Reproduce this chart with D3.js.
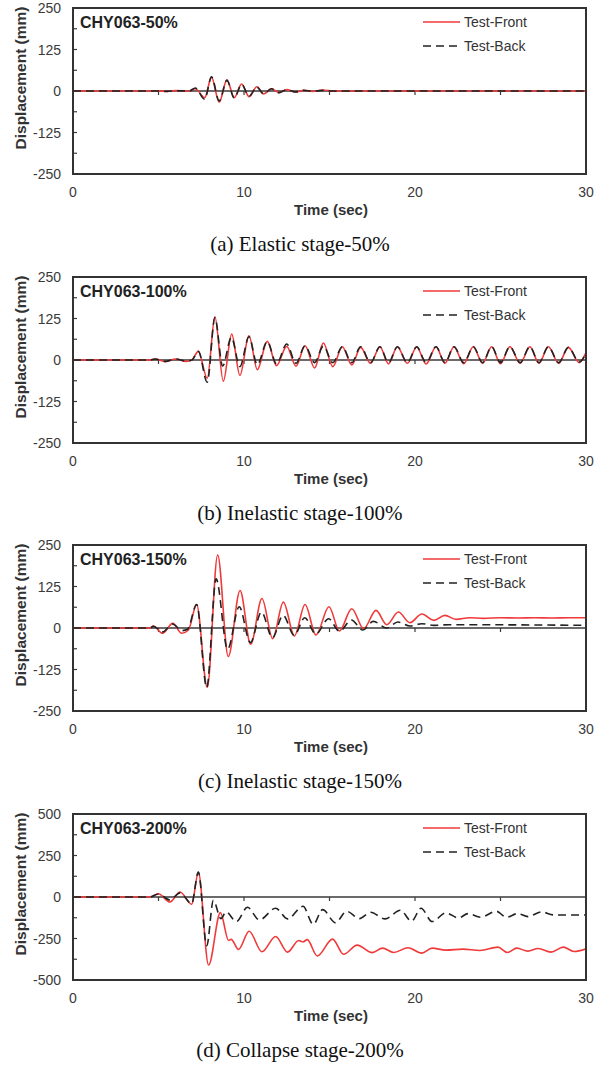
<!DOCTYPE html>
<html>
<head>
<meta charset="utf-8">
<title>CHY063 displacement</title>
<style>
  body { margin: 0; background: #fff; }
  svg { display: block; }
</style>
</head>
<body>

<div id="my_dataviz"></div>

<script src="https://cdn.jsdelivr.net/npm/d3@7"></script>
<script>

    // displacement histories, [time (sec), displacement (mm)]
    var front50 = [[0,0],[5,0],[5.5,-1],[6,1],[6.8,0],[7.15,7],[7.7,-20],[8.1,41],[8.55,-34],[9.0,34],[9.43,-20],[9.86,21],[10.3,-17],[10.75,13],[11.15,-9],[11.6,7],[12.05,-5],[12.5,4],[13.0,-3],[13.5,2],[14.0,-1],[14.6,3],[15.2,0],[30,0]];
    var back50  = [[0,0],[5,0],[5.5,-1],[6,1],[6.8,0],[7.15,9],[7.7,-25],[8.1,43],[8.55,-30],[9.0,32],[9.43,-21],[9.86,20],[10.3,-16],[10.75,12],[11.15,-9],[11.6,7],[12.05,-5],[12.5,4],[13.0,-3],[13.5,2],[14.0,-1],[14.6,2],[15.2,0],[30,0]];

    var front100 = [[0,0],[4.5,0],[4.8,3],[5.4,-5],[6.0,3],[6.6,-4],[6.95,0],[7.33,26],[7.85,-55],[8.3,130],[8.79,-64],[9.28,78],[9.76,-46],[10.29,73],[10.78,-29],[11.36,56],[11.9,-17],[12.5,41],[13.04,-19],[13.57,43],[14.13,-24],[14.64,51],[15.19,-20],[15.75,40],[16.3,-15],[16.82,38],[17.4,-10],[17.95,40],[18.45,-12],[18.97,40],[19.55,-10],[20.1,39],[20.65,-12],[21.23,40],[21.75,-10],[22.28,40],[22.85,-11],[23.41,40],[23.95,-10],[24.48,40],[25.0,-11],[25.55,40],[26.15,-10],[26.72,40],[27.25,-10],[27.8,40],[28.4,-10],[28.97,38],[29.6,-8],[30,22]];
    var back100  = [[0,0],[4.5,0],[4.8,3],[5.4,-4],[6.0,3],[6.6,-3],[6.95,0],[7.33,26],[7.85,-67],[8.3,128],[8.75,-18],[9.26,68],[9.76,-20],[10.29,70],[10.78,-14],[11.36,56],[11.9,-12],[12.5,48],[13.04,-10],[13.57,43],[14.13,-8],[14.64,42],[15.19,-8],[15.75,40],[16.3,-8],[16.82,40],[17.4,-8],[17.95,40],[18.45,-8],[18.97,40],[19.55,-8],[20.1,40],[20.65,-8],[21.23,40],[21.75,-8],[22.28,40],[22.85,-8],[23.41,40],[23.95,-8],[24.48,40],[25.0,-8],[25.55,40],[26.15,-8],[26.72,40],[27.25,-8],[27.8,40],[28.4,-8],[28.97,38],[29.6,-6],[30,20]];

    var front150 = [[0,0],[4.5,0],[4.7,6],[5.24,-16],[5.83,14],[6.36,-16],[6.75,-6],[7.23,71],[7.85,-179],[8.46,220],[9.08,-86],[9.77,113],[10.39,-49],[11.05,89],[11.68,-32],[12.3,78],[12.95,-24],[13.57,71],[14.21,-21],[14.97,64],[15.58,-9],[16.3,58],[17.0,-2],[17.72,53],[18.35,10],[19.03,48],[19.7,16],[20.4,42],[21.1,23],[21.75,38],[22.4,26],[23.2,31],[24,29],[25,31],[26,30],[27,31],[28,30],[29,31],[30,31]];
    var back150  = [[0,0],[4.5,0],[4.7,5],[5.24,-12],[5.83,12],[6.36,-8],[6.7,-4],[7.23,71],[7.82,-179],[8.37,148],[9.04,-64],[9.72,64],[10.37,-44],[11.02,48],[11.66,-29],[12.28,38],[12.94,-22],[13.55,31],[14.2,-18],[14.95,28],[15.58,-10],[16.28,24],[16.95,-6],[17.56,20],[18.35,0],[19.0,18],[19.7,6],[20.4,13],[21.1,8],[22,10],[30,8]];

    var front200 = [[0,0],[4.5,0],[4.99,20],[5.67,-30],[6.26,30],[6.94,-44],[7.33,148],[7.93,-410],[8.62,-94],[9.1,-262],[9.25,-255],[9.68,-316],[10.3,-206],[11.05,-330],[11.85,-238],[12.55,-332],[13.2,-262],[13.45,-270],[13.7,-257],[14.28,-355],[15.18,-254],[15.82,-345],[16.62,-290],[17.5,-335],[18.1,-308],[18.75,-334],[19.6,-306],[20.4,-338],[21.0,-308],[21.8,-320],[22.8,-314],[23.8,-322],[24.85,-302],[25.4,-334],[25.95,-308],[26.6,-326],[27.2,-310],[27.95,-332],[28.67,-302],[29.3,-328],[30,-312]];
    var back200  = [[0,0],[4.5,0],[4.99,18],[5.67,-18],[6.26,25],[6.94,-40],[7.33,150],[7.82,-294],[8.21,-20],[8.65,-130],[8.95,-90],[9.55,-148],[10.2,-62],[10.9,-138],[11.85,-68],[12.55,-132],[13.45,-56],[14.05,-165],[14.6,-76],[15.35,-155],[16.0,-86],[16.75,-130],[17.4,-92],[18.25,-132],[19.15,-80],[19.8,-146],[20.35,-68],[21.0,-148],[21.8,-96],[22.55,-126],[23.1,-100],[23.85,-122],[24.75,-86],[25.35,-122],[26.0,-100],[26.6,-118],[27.4,-90],[28.1,-108],[30,-108]];

    // axis ticks and labels
    var xTicks = [0, 10, 20, 30];
    var xMinor = [5, 10, 15, 20, 25];
    var yTicks250 = [-250, -125, 0, 125, 250];
    var yTicks500 = [-500, -250, 0, 250, 500];
    var titles = ["CHY063-50%", "CHY063-100%", "CHY063-150%", "CHY063-200%"];
    var captions = ["(a) Elastic stage-50%", "(b) Inelastic stage-100%", "(c) Inelastic stage-150%", "(d) Collapse stage-200%"];
    var seriesNames = ["Test-Front", "Test-Back"];

    var panels = [
      {front: front50,  back: back50,  ticks: yTicks250},
      {front: front100, back: back100, ticks: yTicks250},
      {front: front150, back: back150, ticks: yTicks250},
      {front: front200, back: back200, ticks: yTicks500}
    ];

    var W = 602, H = 1066;
    var left = 73, right = 586, boxH = 166;
    var tops = [8, 277, 545, 814];

    var svg = d3.select("#my_dataviz")
      .append("svg")
        .attr("width", W)
        .attr("height", H)
        .style("font-family", "Arial, 'Liberation Sans', sans-serif");

    var x = d3.scaleLinear().domain([0, 30]).range([left, right]);

    panels.forEach(function(p, i) {
      var top = tops[i];
      var ymax = d3.max(p.ticks);
      var y = d3.scaleLinear().domain([-ymax, ymax]).range([top + boxH, top]);
      var g = svg.append("g");

      // clip to plot box
      g.append("clipPath").attr("id", "clip" + i)
        .append("rect").attr("x", left).attr("y", top).attr("width", right - left).attr("height", boxH);

      // zero line with its time ticks
      g.append("line")
        .attr("x1", left).attr("x2", right)
        .attr("y1", y(0)).attr("y2", y(0))
        .attr("stroke", "#3a3a3a").attr("stroke-width", 1.6);
      g.selectAll(".ztick").data(xMinor).enter().append("line")
        .attr("x1", function(d) { return x(d); }).attr("x2", function(d) { return x(d); })
        .attr("y1", y(0)).attr("y2", y(0) + 4)
        .attr("stroke", "#3a3a3a").attr("stroke-width", 1.2);

      // minor y ticks inside the box
      var step = p.ticks[1] - p.ticks[0];
      var yMinor = d3.range(-ymax, ymax + 1, step / 2);
      g.selectAll(".ytick").data(yMinor).enter().append("line")
        .attr("x1", left).attr("x2", left + 4)
        .attr("y1", function(d) { return y(d); }).attr("y2", function(d) { return y(d); })
        .attr("stroke", "#3a3a3a").attr("stroke-width", 1.2);

      var line = d3.line()
        .x(function(d) { return x(d[0]); })
        .y(function(d) { return y(d[1]); })
        .curve(d3.curveMonotoneX);

      g.append("path")
        .datum(p.front)
        .attr("clip-path", "url(#clip" + i + ")")
        .attr("d", line)
        .attr("fill", "none")
        .attr("stroke", "#f03a3a")
        .attr("stroke-width", 1.6);

      g.append("path")
        .datum(p.back)
        .attr("clip-path", "url(#clip" + i + ")")
        .attr("d", line)
        .attr("fill", "none")
        .attr("stroke", "#222")
        .attr("stroke-width", 1.6)
        .attr("stroke-dasharray", "8,5");

      // frame
      g.append("rect")
        .attr("x", left).attr("y", top)
        .attr("width", right - left).attr("height", boxH)
        .attr("fill", "none").attr("stroke", "#333").attr("stroke-width", 2);

      // y tick labels
      g.selectAll(".ylab").data(p.ticks).enter().append("text")
        .attr("x", 61).attr("y", function(d) { return y(d) + 5; })
        .attr("text-anchor", "end")
        .attr("font-size", 14).attr("fill", "#3a3a3a")
        .text(function(d) { return d; });

      // x tick labels
      g.selectAll(".xlab").data(xTicks).enter().append("text")
        .attr("x", function(d) { return x(d); }).attr("y", top + boxH + 23)
        .attr("text-anchor", "middle")
        .attr("font-size", 14).attr("fill", "#3a3a3a")
        .text(function(d) { return d; });

      // axis titles
      g.append("text")
        .attr("transform", "translate(26," + (top + boxH / 2 - 13) + ") rotate(-90)")
        .attr("text-anchor", "middle")
        .attr("font-size", 15.5).attr("font-weight", "bold").attr("fill", "#333")
        .text("Displacement (mm)");
      g.append("text")
        .attr("x", 331).attr("y", top + 207)
        .attr("text-anchor", "middle")
        .attr("font-size", 15).attr("font-weight", "bold").attr("fill", "#333")
        .text("Time (sec)");

      // panel title
      g.append("text")
        .attr("x", 80).attr("y", top + 20)
        .attr("font-size", 16).attr("font-weight", "bold").attr("fill", "#222")
        .text(titles[i]);

      // legend
      g.append("line")
        .attr("x1", 423).attr("x2", 460).attr("y1", top + 14).attr("y2", top + 14)
        .attr("stroke", "#f03a3a").attr("stroke-width", 1.6);
      g.append("line")
        .attr("x1", 423).attr("x2", 460).attr("y1", top + 38).attr("y2", top + 38)
        .attr("stroke", "#222").attr("stroke-width", 1.6).attr("stroke-dasharray", "8,5");
      g.selectAll(".leg").data(seriesNames).enter().append("text")
        .attr("x", 464).attr("y", function(d, k) { return top + 19 + k * 24; })
        .attr("font-size", 14).attr("fill", "#333")
        .text(function(d) { return d; });

      // caption
      g.append("text")
        .attr("x", 300).attr("y", top + 243)
        .attr("text-anchor", "middle")
        .attr("font-family", "'Liberation Serif', 'Times New Roman', serif")
        .attr("font-size", 21).attr("fill", "#111")
        .text(captions[i]);
    });

</script>

</body>
</html>
